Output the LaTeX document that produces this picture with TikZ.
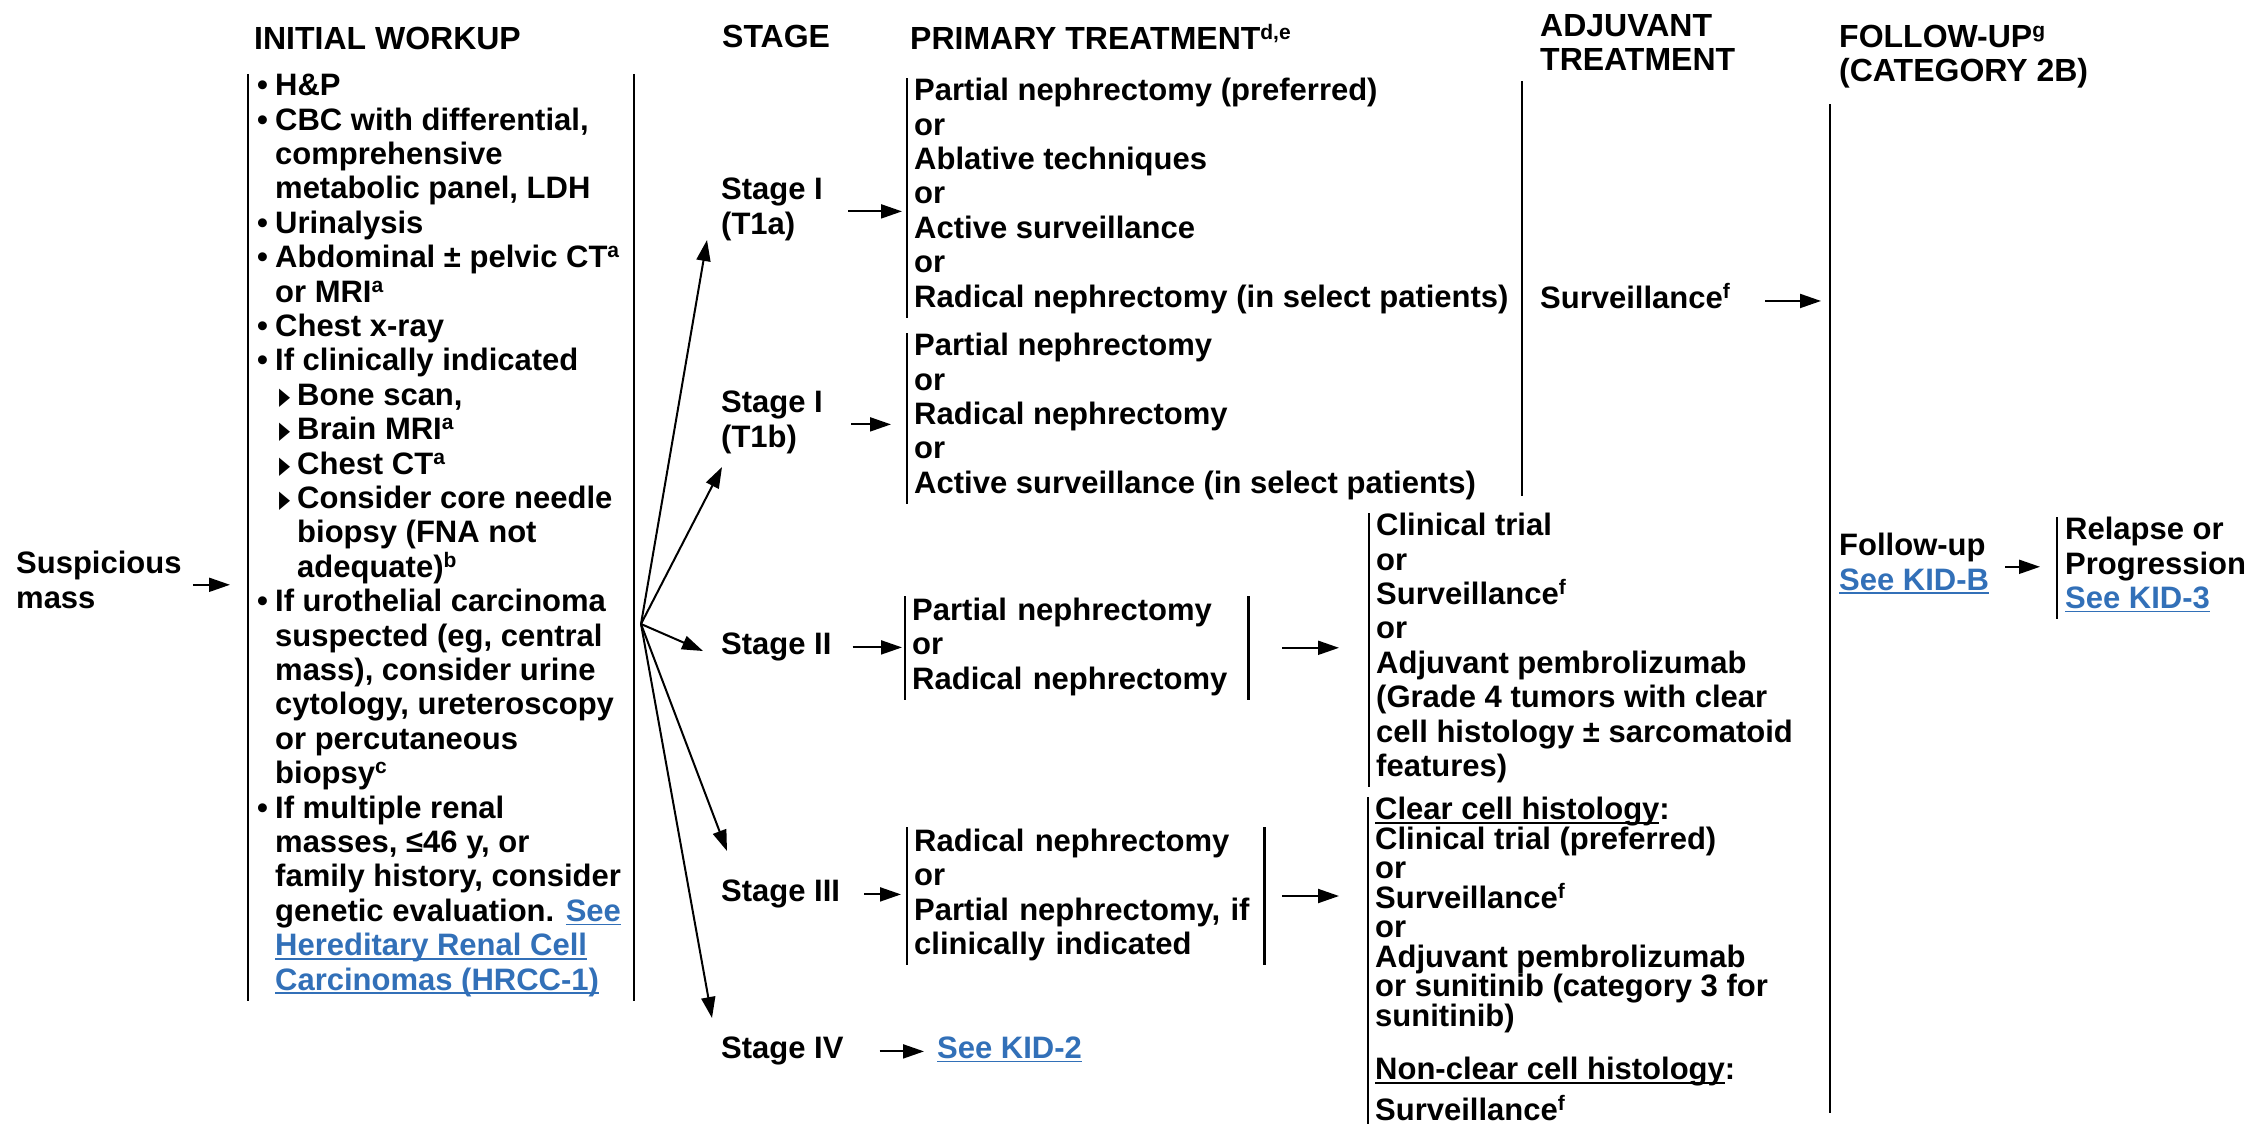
\documentclass[tikz,border=0pt]{standalone}
\usepackage{fontspec}
\setmainfont{Liberation Sans}
\newfontfamily\trifont{DejaVu Sans}
\usetikzlibrary{arrows.meta,calc}
\definecolor{LinkClr}{RGB}{50,112,184}
\definecolor{LineClr}{RGB}{0,0,0}
\newcommand{\ulk}[1]{\setbox0\hbox{#1}\rlap{\rule[-4pt]{\wd0}{1.6pt}}\box0}
\newcommand{\lnk}[1]{{\color{LinkClr}\ulk{#1}}}
\newcommand{\sups}[1]{\raisebox{10pt}{\fontsize{21}{21}\selectfont #1}}
\newcommand{\wkb}{\makebox[18pt][l]{\textbullet}}
\newcommand{\wki}{\hspace*{18pt}}
\newcommand{\wkt}{\hspace*{22pt}\makebox[18pt][l]{\raisebox{1pt}{\scalebox{0.6}[1]{\trifont\fontsize{24}{24}\selectfont ▶}}}}
\newcommand{\wkii}{\hspace*{40pt}}
\begin{document}
\begin{tikzpicture}[x=1pt,y=-1pt,
  txt/.style={font=\bfseries\fontsize{31}{34.4}\selectfont,align=left,inner sep=0pt,
    anchor=north west,execute at begin node=\strut,execute at end node=\strut},
  hdr/.style={txt,font=\bfseries\fontsize{32}{34}\selectfont},
  optbox/.style={txt,inner xsep=7pt},
  brk/.style={line width=2.2pt,color=LineClr},
  arr/.style={line width=2pt,-{Triangle[length=21pt,width=14pt]}}]
\useasboundingbox (0,0) rectangle (2267,1124);

\node[hdr] (hWk) at (254,26) {INITIAL WORKUP};
\node[hdr] (hSt) at (722,24) {STAGE};
\node[hdr] (hPr) at (910,24) {PRIMARY TREATMENT\sups{d,e}};
\node[hdr] (hAd) at (1540,14) {ADJUVANT\\TREATMENT};
\node[hdr] (hFu) at (1839,25) {FOLLOW-UP\sups{g}\\(CATEGORY 2B)};

\node[txt] (susp) at (16,551) {Suspicious\\mass};
\node[txt,inner xsep=9pt] (wk) at (248,74) {\wkb H\&P\\
\wkb CBC with differential,\\
\wki comprehensive\\
\wki metabolic panel, LDH\\
\wkb Urinalysis\\
\wkb Abdominal ± pelvic CT\sups{a}\\
\wki or MRI\sups{a}\\
\wkb Chest x-ray\\
\wkb If clinically indicated\\
\wkt Bone scan,\\
\wkt Brain MRI\sups{a}\\
\wkt Chest CT\sups{a}\\
\wkt Consider core needle\\
\wkii biopsy (FNA not\\
\wkii adequate)\sups{b}\\
\wkb If urothelial carcinoma\\
\wki suspected (eg, central\\
\wki mass), consider urine\\
\wki cytology, ureteroscopy\\
\wki or percutaneous\\
\wki biopsy\sups{c}\\
\wkb If multiple renal\\
\wki masses, ≤46 y, or\\
\wki family history, consider\\
\wki genetic evaluation. \lnk{See}\\
\wki \lnk{Hereditary Renal Cell}\\
\wki \lnk{Carcinomas (HRCC-1)}};

\node[txt] (st1a) at (721,178) {Stage I\\(T1a)};
\node[txt] (st1b) at (721,391) {Stage I\\(T1b)};
\node[txt] (st2) at (721,630) {Stage II};
\node[txt] (st3) at (721,877) {Stage III};
\node[txt] (st4) at (721,1034) {Stage IV};

\node[optbox] (p1a) at (907,78) {Partial nephrectomy (preferred)\\or\\Ablative techniques\\or\\Active surveillance\\or\\Radical nephrectomy (in select patients)};
\node[optbox] (p1b) at (907,333) {Partial nephrectomy\\or\\Radical nephrectomy\\or\\Active surveillance (in select patients)};
\node[optbox,text width=329pt] (p2) at (905,596) {Partial nephrectomy\\or\\Radical nephrectomy};
\node[optbox,text width=343pt] (p3) at (907,827) {Radical nephrectomy\\or\\Partial nephrectomy, if\\clinically indicated};
\node[txt] (k2) at (937,1034) {\lnk{See KID-2}};

\node[txt] (aS) at (1540,283) {Surveillance\sups{f}};
\node[optbox] (a2) at (1369,513) {Clinical trial\\or\\Surveillance\sups{f}\\or\\Adjuvant pembrolizumab\\(Grade 4 tumors with clear\\cell histology ± sarcomatoid\\features)};
\node[optbox,font=\bfseries\fontsize{31}{29.5}\selectfont] (a3) at (1368,797) {\ulk{Clear cell histology}:\\Clinical trial (preferred)\\or\\Surveillance\sups{f}\\or\\Adjuvant pembrolizumab\\or sunitinib (category 3 for\\sunitinib)\\[24pt]\ulk{Non-clear cell histology}:\\[8pt]Surveillance\sups{f}};

\node[txt] (fu) at (1839,533) {Follow-up\\\lnk{See KID-B}};
\node[optbox,inner xsep=8pt] (rp) at (2057,517) {Relapse or\\Progression\\\lnk{See KID-3}};

\coordinate (fan) at (641,624);
\coordinate (f1) at (707,240);
\coordinate (f2) at (722,467);
\coordinate (f3) at (703,651);
\coordinate (f4) at (727,851);
\coordinate (f5) at (712,1018);
\coordinate (adjTop) at (1522,81);
\coordinate (adjBot) at (1522,496);
\coordinate (fuTop) at (1830,104);
\coordinate (fuBot) at (1830,1113);
\coordinate (a3Bot) at (1368,1124);

\draw[brk] (wk.north west) -- (wk.south west);
\draw[brk] ([xshift=386pt]wk.north west) -- ([xshift=386pt]wk.south west);
\foreach \bx in {p1a,p1b,p2,p3,a2,rp}
  \draw[brk] (\bx.north west) -- (\bx.south west);
\draw[brk] (p2.north east) -- (p2.south east);
\draw[brk] (p3.north east) -- (p3.south east);
\draw[brk] (a3.north west) -- (a3.north west |- a3Bot);
\draw[brk] (adjTop) -- (adjBot);
\draw[brk] (fuTop) -- (fuBot);

\draw[arr] ([xshift=11pt]susp.east) -- ([xshift=-18pt]susp.east -| wk.west);
\foreach \tp in {f1,f2,f3,f4,f5}
  \draw[arr] (fan) -- (\tp);
\draw[arr] ([xshift=25pt]st1a.east) -- ([xshift=-5pt]st1a.east -| p1a.west);
\draw[arr] ([xshift=28pt]st1b.east) -- ([xshift=-16pt]st1b.east -| p1b.west);
\draw[arr] ([xshift=21pt]st2.east) -- ([xshift=-3pt]st2.east -| p2.west);
\draw[arr] ([xshift=24pt]st3.east) -- ([xshift=-6pt]st3.east -| p3.west);
\draw[arr] ([xshift=36pt]st4.east) -- ([xshift=-13pt]st4.east -| k2.west);
\draw[arr] ([xshift=34pt]p2.east) -- ([xshift=-30pt]p2.east -| a2.west);
\draw[arr] ([xshift=18pt]p3.east) -- ([xshift=-29pt]p3.east -| a3.west);
\draw[arr] ([xshift=35pt]aS.east) -- ([xshift=-9pt]aS.east -| fuTop);
\draw[arr] ([xshift=16pt]fu.east) -- ([xshift=-17pt]fu.east -| rp.west);
\end{tikzpicture}
\end{document}
